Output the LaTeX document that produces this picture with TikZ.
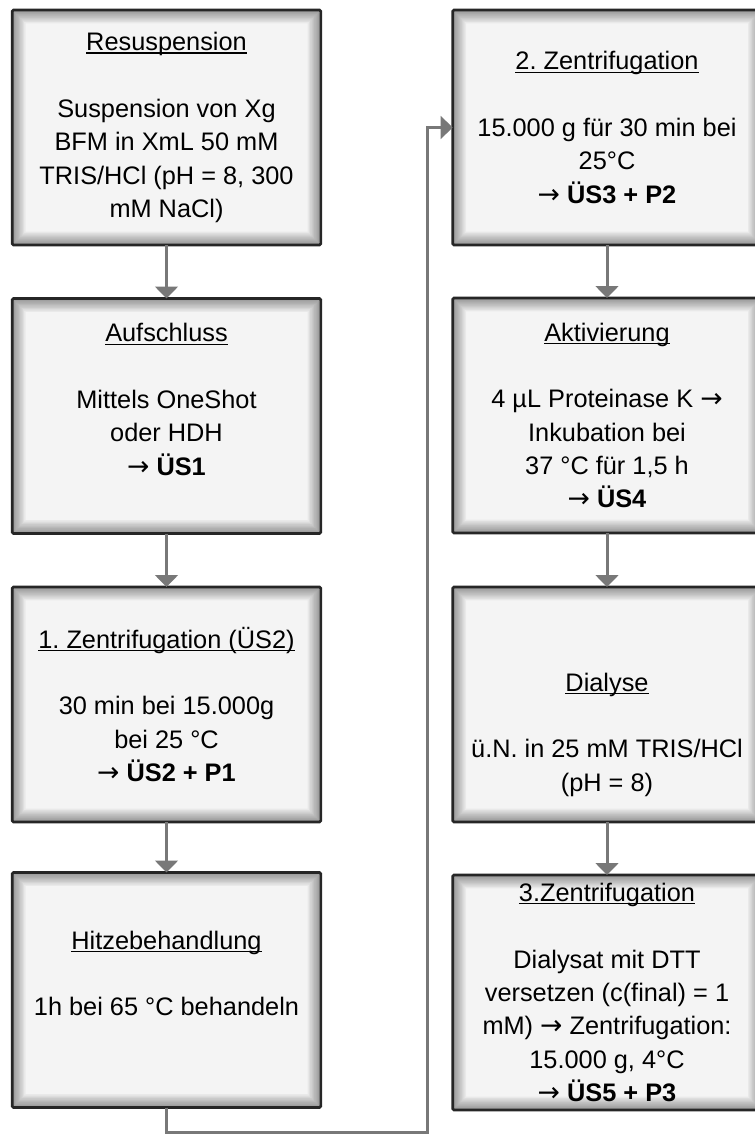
\documentclass[tikz,border=0pt]{standalone}
\usepackage{fontspec}
\setmainfont{Liberation Sans}
\newfontfamily\arrowfont{DejaVu Sans}
\usetikzlibrary{arrows.meta}
\definecolor{linegray}{RGB}{120,120,120}
\definecolor{boxfill}{RGB}{244,244,244}

% underline close to the baseline, as in the original
\newcommand{\uln}[1]{\leavevmode\setbox0\hbox{#1}\rlap{\rule[-2.2pt]{\wd0}{0.9pt}}\box0}
\newcommand{\ra}{{\arrowfont\fontsize{20}{25}\selectfont →}}

\tikzset{
    stepbox/.style={draw=black!85, line width=2pt, fill=boxfill, rounded corners=1pt,
        minimum width=231.5pt, minimum height=176.25pt, inner sep=0pt, outer sep=0pt,
        align=center, font=\fontsize{19}{25}\selectfont\frenchspacing,
        path picture={
            \foreach \w in {2,4,...,20}
                \draw[black, opacity=0.045, line width=\w pt]
                    (path picture bounding box.south west) rectangle (path picture bounding box.north east);
        }},
    flow/.style={draw=linegray, line width=2.25pt, -{Triangle[width=17pt,length=9pt]}},
}

\begin{document}
\begin{tikzpicture}[x=0.75pt, y=-0.75pt]
    \useasboundingbox (0,0) rectangle (754,1134);

    % left column
    \node[stepbox] (resusp) at (166.5,127.5) {\uln{Resuspension}\\[25pt]
        Suspension von Xg\\ BFM in XmL 50 mM\\ TRIS/HCl (pH = 8, 300\\ mM NaCl)};
    \node[stepbox] (aufschl) at (166.5,416) {\uln{Aufschluss}\\[25pt]
        Mittels OneShot\\ oder HDH\\ \ra{} \textbf{ÜS1}\\ \mbox{}};
    \node[stepbox] (zentri1) at (166.5,704.5) {\uln{1. Zentrifugation (ÜS2)}\\[25pt]
        30 min bei 15.000g\\ bei 25 °C\\ \ra{} \textbf{ÜS2 + P1}};
    \node[stepbox] (hitze) at (166.5,990) {\uln{Hitzebehandlung}\\[25pt]
        1h bei 65 °C behandeln\\ \mbox{}};

    % right column
    \node[stepbox] (zentri2) at (607,127.5) {\uln{2. Zentrifugation}\\[25pt]
        15.000 g für 30 min bei\\ 25°C\\ \ra{} \textbf{ÜS3 + P2}};
    \node[stepbox] (aktiv) at (607,415.5) {\uln{Aktivierung}\\[25pt]
        4 µL Proteinase K \ra\\ Inkubation bei\\ 37 °C für 1,5 h\\ \ra{} \textbf{ÜS4}};
    \node[stepbox] (dialyse) at (607,704.5) {\mbox{}\\[9pt] \mbox{}\\ \uln{Dialyse}\\[25pt]
        ü.N. in 25 mM TRIS/HCl\\ (pH = 8)};
    \node[stepbox] (zentri3) at (607,992.5) {\uln{3.Zentrifugation}\\[25pt]
        Dialysat mit DTT\\ versetzen (c(final) = 1\\ mM) \ra{} Zentrifugation:\\ 15.000 g, 4°C\\ \ra{} \textbf{ÜS5 + P3}};

    % connectors
    \draw[flow] (resusp) -- (aufschl);
    \draw[flow] (aufschl) -- (zentri1);
    \draw[flow] (zentri1) -- (hitze);
    \coordinate (loopbot) at (427,1132);
    \draw[flow] (hitze.south) |- (loopbot) |- (zentri2.west);
    \draw[flow] (zentri2) -- (aktiv);
    \draw[flow] (aktiv) -- (dialyse);
    \draw[flow] (dialyse) -- (zentri3);
\end{tikzpicture}
\end{document}
